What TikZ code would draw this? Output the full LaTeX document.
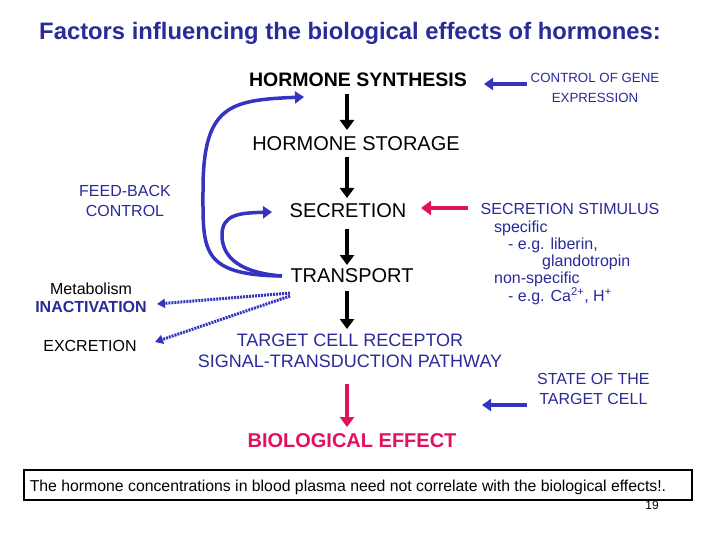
\documentclass[tikz,border=0pt]{standalone}
\usepackage{fontspec}
\setmainfont{Liberation Sans}
\usetikzlibrary{arrows.meta}
\definecolor{tblue}{HTML}{2A2A99}
\definecolor{ablue}{HTML}{3434C0}
\definecolor{pinkc}{HTML}{E0115F}
\tikzset{
  lbl/.style={inner sep=0pt,align=center},
  blk/.style={-{Triangle[length=10pt,width=14pt]},line width=3.5pt,black},
  bar/.style={-{Triangle[length=9pt,width=12pt]},line width=3.5pt,ablue},
  pnk/.style={-{Triangle[length=10pt,width=14pt]},line width=3.5pt,pinkc},
  dots/.style={-{Triangle[length=8pt,width=9pt]},line width=3pt,ablue,dash pattern=on 2pt off 1pt},
}
\begin{document}
\begin{tikzpicture}[x=1pt,y=-1pt]
\useasboundingbox (0,0) rectangle (720,540);
\fill[white] (0,0) rectangle (720,540);
\node[lbl,font=\fontsize{23.8}{27}\selectfont\bfseries,text=tblue] (title) at (350,33) {Factors influencing the biological effects of hormones:};
\node[lbl,font=\fontsize{19.5}{22}\selectfont\bfseries] (syn) at (358,80) {HORMONE SYNTHESIS};
\node[lbl,font=\fontsize{13.3}{19.5}\selectfont,text=tblue] (gene) at (595,88) {CONTROL OF GENE\\EXPRESSION};
\node[lbl,font=\fontsize{20}{22}\selectfont] (stor) at (356,144) {HORMONE STORAGE};
\node[lbl,font=\fontsize{20}{22}\selectfont] (sec) at (348,211) {SECRETION};
\node[lbl,font=\fontsize{20}{22}\selectfont] (tra) at (352,276) {TRANSPORT};
\node[lbl,font=\fontsize{16}{19}\selectfont,text=tblue] (stim) at (570,209) {SECRETION STIMULUS};
\node[lbl,font=\fontsize{16}{19}\selectfont,text=tblue,anchor=west] (s1) at (494,228) {specific};
\node[lbl,font=\fontsize{16}{19}\selectfont,text=tblue,anchor=west] (s2) at (508,245) {- e.g. liberin,};
\node[lbl,font=\fontsize{16}{19}\selectfont,text=tblue,anchor=west] (s3) at (542,262) {glandotropin};
\node[lbl,font=\fontsize{16}{19}\selectfont,text=tblue,anchor=west] (s4) at (494,279) {non-specific};
\node[lbl,font=\fontsize{16}{19}\selectfont,text=tblue,anchor=west] (s5) at (508,296) {- e.g. Ca\textsuperscript{2+}, H\textsuperscript{+}};
\node[lbl,font=\fontsize{16}{19.5}\selectfont,text=tblue] (fb) at (125,201) {FEED-BACK\\CONTROL};
\node[lbl,font=\fontsize{16}{19}\selectfont] (met) at (91,289) {Metabolism};
\node[lbl,font=\fontsize{16}{19}\selectfont\bfseries,text=tblue] (ina) at (91,307) {INACTIVATION};
\node[lbl,font=\fontsize{16}{19}\selectfont] (exc) at (90,346) {EXCRETION};
\node[lbl,font=\fontsize{18}{20.5}\selectfont,text=tblue] (tcr) at (350,351) {TARGET CELL RECEPTOR\\SIGNAL-TRANSDUCTION PATHWAY};
\node[lbl,font=\fontsize{16}{19.5}\selectfont,text=tblue,anchor=west] (state) at (537,389) {STATE OF THE\\TARGET CELL};
\node[lbl,font=\fontsize{20}{22}\selectfont\bfseries,text=pinkc] (bio) at (352,441) {BIOLOGICAL EFFECT};
\node[draw=black,line width=1.5pt,minimum width=668pt,minimum height=30pt,inner sep=0pt] (box) at (358,485) {};
\node[lbl,font=\fontsize{15.8}{18}\selectfont] (boxt) at (348,487) {The hormone concentrations in blood plasma need not correlate with the biological effects!.};
\node[lbl,font=\fontsize{12}{14}\selectfont] (pg) at (652,505) {19};
\coordinate (tb) at (282,276);
\draw[blk] (347,94) -- (347,130);
\draw[blk] (347,157) -- (347,198);
\draw[blk] (347,229) -- (347,265);
\draw[blk] (347,291) -- (347,329);
\draw[pnk] (347,384) -- (347,427);
\draw[pnk] (468,208) -- (421,208);
\draw[bar] (527,84) -- (484,84);
\draw[bar] (527,405) -- (482,405);
\draw[bar] (tb) .. controls (200,275) and (203,250) .. (203,190)
  .. controls (203,105) and (230,100) .. (304,97);
\draw[bar] (tb) .. controls (230,272) and (222,250) .. (222,235)
  .. controls (222,214) and (240,213) .. (272,212);
\draw[dots] (290,293) -- (157,304);
\draw[dots] (290,296) -- (155,342);
\end{tikzpicture}
\end{document}
